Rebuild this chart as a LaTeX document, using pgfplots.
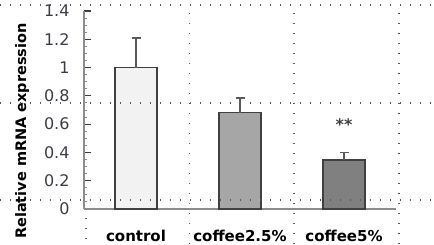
\documentclass[border=0pt]{standalone}
\usepackage{fontspec}
\setmainfont{DejaVu Sans}
\usepackage{pgfplots}
\pgfplotsset{compat=1.18}
\definecolor{axgray}{HTML}{8C8C8C}
\definecolor{edgegray}{HTML}{404040}
\definecolor{errgray}{HTML}{5A5A5A}
\definecolor{labgray}{HTML}{3C3C46}
\definecolor{barA}{HTML}{F2F2F2}
\definecolor{barB}{HTML}{A6A6A6}
\definecolor{barC}{HTML}{808080}
\begin{document}
\begin{tikzpicture}[x=1pt,y=1pt]
\begin{axis}[
  at={(84pt,35pt)}, anchor=south west,
  scale only axis, width=312pt, height=198pt,
  xmin=-0.5, xmax=2.5, ymin=0, ymax=1.4,
  clip=false,
  axis x line=bottom, axis y line=left,
  axis line style={draw=axgray, line width=1.4pt, -},
  tick align=inside,
  xtick={0,1,2},
  xticklabels={control,coffee2.5\%,coffee5\%},
  x tick style={draw=none},
  extra x ticks={0.5,1.5,2.5},
  extra x tick labels={},
  extra x tick style={major tick length=6pt, tick style={draw=axgray, line width=1.2pt}},
  x tick label style={font=\fontsize{15}{17}\selectfont\bfseries, text=black, yshift=-11pt},
  ytick={0,0.2,...,1.4},
  minor y tick num=3,
  major tick length=6.5pt,
  minor tick length=2.5pt,
  y tick style={draw=edgegray, line width=1.1pt},
  minor y tick style={draw=axgray, line width=0.9pt},
  y tick label style={font=\fontsize{16}{18}\selectfont, text=labgray, xshift=-11pt},
  /pgf/number format/assume math mode=true,
  ybar, bar width=42pt, bar shift=0pt,
  error bars/y dir=plus, error bars/y explicit,
  error bars/error bar style={draw=errgray, line width=1.5pt},
  error bars/error mark options={rotate=90, mark size=4.5pt, line width=1.5pt, draw=errgray},
]
\addplot[fill=barA, draw=edgegray, line width=1.2pt] coordinates {(0,1.0) +- (0,0.21)};
\addplot[fill=barB, draw=edgegray, line width=1.2pt] coordinates {(1,0.68) +- (0,0.105)};
\addplot[fill=barC, draw=edgegray, line width=1.2pt] coordinates {(2,0.347) +- (0,0.051)};
\node[font=\fontsize{16}{18}\selectfont\bfseries, text=edgegray] at (axis cs:2,0.6) {**};
\end{axis}
\node[rotate=90, font=\fontsize{14.5}{16}\selectfont\bfseries] at (22pt,113pt) {Relative mRNA expression};
\begin{scope}[draw=black!65, line width=1.2pt, dash pattern=on 1.2pt off 8.8pt]
\draw (0,239) -- (434,239);
\draw (0,141) -- (434,141);
\draw (0,44) -- (434,44);
\draw (189.5,231) -- (189.5,0);
\draw (294,231) -- (294,0);
\draw (399,231) -- (399,0);
\draw (86,26) -- (86,0);
\end{scope}
\pgfresetboundingbox
\useasboundingbox (0,0) rectangle (434,244);
\end{tikzpicture}
\end{document}
